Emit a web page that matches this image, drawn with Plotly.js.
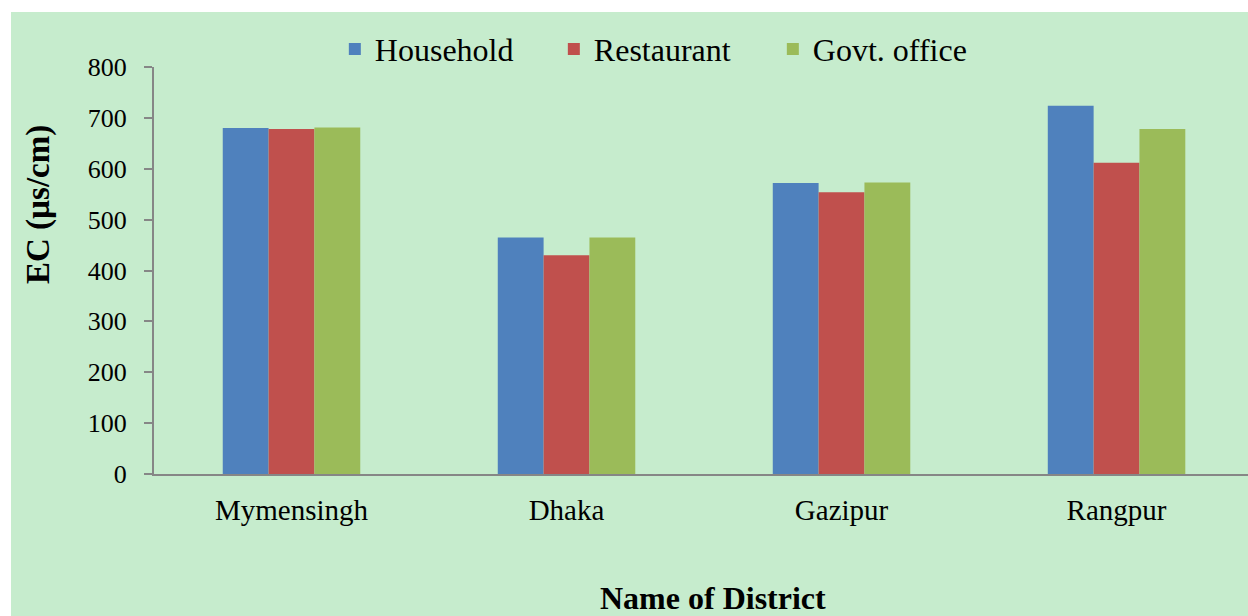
<!DOCTYPE html>
<html>
<head>
<meta charset="utf-8">
<script src="https://cdn.plot.ly/plotly-3.0.1.min.js"></script>
<style>
html,body{margin:0;padding:0;background:#ffffff;width:1248px;height:616px;overflow:hidden;}
#chart{position:absolute;left:11px;top:12px;width:1237px;height:604px;}
</style>
</head>
<body>
<div id="chart"></div>
<script>
var districts = ["Mymensingh", "Dhaka", "Gazipur", "Rangpur"];
var household = [680, 465, 572, 724];
var restaurant = [678, 430, 554, 612];
var govtOffice = [681, 465, 573, 678];
var seriesNames = ["Household", "Restaurant", "Govt. office"];
var seriesColors = ["#4F81BD", "#C0504D", "#9BBB59"];
var yTicks = [0, 100, 200, 300, 400, 500, 600, 700, 800];

var serif = "'Liberation Serif', 'Times New Roman', serif";
var values = [household, restaurant, govtOffice];
var traces = values.map(function (v, i) {
  return {
    type: "bar",
    name: seriesNames[i],
    x: districts,
    y: v,
    marker: {color: seriesColors[i], line: {width: 0}},
    hoverinfo: "x+y+name"
  };
});

var layout = {
  width: 1237,
  height: 604,
  margin: {l: 143, r: 0, t: 55, b: 142, pad: 0, autoexpand: false},
  paper_bgcolor: "#C6ECCD",
  plot_bgcolor: "#C6ECCD",
  barmode: "group",
  bargap: 0.5,
  bargroupgap: 0,
  font: {family: serif, color: "#000000", size: 26},
  showlegend: true,
  legend: {
    orientation: "h",
    x: 0.1653, xanchor: "left",
    y: 1.044, yanchor: "middle",
    font: {family: serif, size: 32, color: "#000000"},
    bgcolor: "rgba(0,0,0,0)",
    entrywidth: 174,
    itemwidth: 30,
    traceorder: "normal"
  },
  xaxis: {
    type: "category",
    range: [-0.5, 3.478],
    showline: true,
    linecolor: "#868686",
    linewidth: 2,
    ticks: "",
    showgrid: false,
    zeroline: false,
    automargin: false,
    tickfont: {family: serif, size: 29, color: "#000000"},
    ticklabelstandoff: 9
  },
  yaxis: {
    range: [0, 800],
    tickvals: yTicks,
    ticktext: yTicks.map(String),
    showline: true,
    linecolor: "#868686",
    linewidth: 2,
    ticks: "outside",
    ticklen: 8,
    tickwidth: 2,
    tickcolor: "#868686",
    showgrid: false,
    zeroline: false,
    automargin: false,
    tickfont: {family: serif, size: 26, color: "#000000"},
    ticklabelstandoff: 12
  },
  annotations: [
    {
      text: "<b>EC (µs/cm)</b>",
      textangle: -90,
      xref: "paper", yref: "paper",
      x: (38 - 154) / 1094, y: (474 - 205) / 407,
      xanchor: "center", yanchor: "middle",
      showarrow: false,
      font: {family: serif, size: 33, color: "#000000"}
    },
    {
      text: "<b>Name of District</b>",
      xref: "paper", yref: "paper",
      x: (713 - 154) / 1094, y: (474 - 598) / 407,
      xanchor: "center", yanchor: "middle",
      showarrow: false,
      font: {family: serif, size: 32, color: "#000000"}
    }
  ]
};

Plotly.newPlot("chart", traces, layout, {displayModeBar: false, responsive: false});
</script>
</body>
</html>
